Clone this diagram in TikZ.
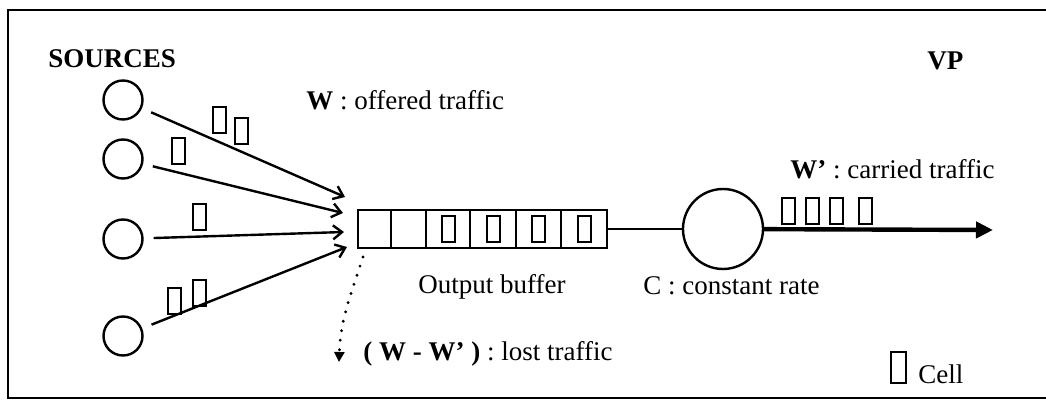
\documentclass[tikz,border=0pt]{standalone}
\usepackage{fontspec}
\setmainfont{Liberation Serif}
\usetikzlibrary{arrows.meta}

\begin{document}
\begin{tikzpicture}[x=0.5pt,y=-0.5pt]
    \useasboundingbox (0,0) rectangle (1046,401);
    \draw[line width=1.1pt] (1046,10) -- (8,10) -- (8,398) -- (1046,398);
    % sources and server
    \begin{scope}
        \tikzstyle{every node}=[draw=black, circle, line width=1.2pt, inner sep=0pt, minimum size=19.5pt]
        \node (src1) at (123,100) {};
        \node (src2) at (123,159) {};
        \node (src3) at (123,239) {};
        \node (src4) at (123,336) {};
        \node[minimum size=40pt] (server) at (723,229) {};
    \end{scope}
    % output buffer
    \begin{scope}
        \tikzstyle{every node}=[draw=black, rectangle, line width=1pt, inner sep=0pt, minimum height=19pt]
        \node[minimum width=16.5pt] (b1) at (374.5,229) {};
        \node[minimum width=17.5pt] (b2) at (408.5,229) {};
        \node[minimum width=22pt] (b3) at (448,229) {};
        \node[minimum width=23pt] (b4) at (493,229) {};
        \node[minimum width=22.5pt] (b5) at (538.5,229) {};
        \node[minimum width=23pt] (b6) at (584,229) {};
    \end{scope}
    % cells
    \begin{scope}
        \tikzstyle{every node}=[draw=black, rectangle, line width=1pt, inner sep=0pt, minimum width=6.5pt, minimum height=13pt]
        \node (c1) at (219.5,120) {};
        \node (c2) at (241.5,131.5) {};
        \node (c3) at (178.5,151) {};
        \node (c4) at (199.5,217.5) {};
        \node (c5) at (174,301.5) {};
        \node (c6) at (199,293.5) {};
        \node (q1) at (b3) {};
        \node (q2) at (b4) {};
        \node (q3) at (b5) {};
        \node (q4) at (b6) {};
        \node (o1) at (788,211.5) {};
        \node (o2) at (812,211.5) {};
        \node (o3) at (836,211.5) {};
        \node (o4) at (865,211.5) {};
        \node[line width=1.3pt, minimum width=7.5pt, minimum height=15.5pt] (key) at (898.5,367.5) {};
    \end{scope}
    \coordinate (in1) at (345,197);
    \coordinate (in2) at (343,213);
    \coordinate (in3) at (344,232);
    \coordinate (in4) at (347,247);
    \coordinate (out) at (993,230);
    \coordinate (loss) at (363,257);
    \coordinate (lost) at (339,362);
    % connectors
    \begin{scope}
        \tikzstyle{every edge}=[draw, line width=1.2pt, -{Straight Barb[length=4.5pt,width=7pt]}]
        \path
        (src1) edge[shorten <=5pt] (in1)
        (src2) edge[shorten <=5pt] (in2)
        (src3) edge[shorten <=5pt] (in3)
        (src4) edge[shorten <=5pt] (in4)
        (b6) edge[-] (server)
        (server) edge[line width=2.2pt, -{Triangle[length=8.5pt,width=8pt]}] (out)
        (loss) edge[out=-108, in=88, line width=1.6pt, line cap=round, dash pattern=on 0pt off 4.8pt,
                    -{Triangle[length=5pt,width=5pt]}] (lost);
    \end{scope}
    % labels
    \begin{scope}
        \tikzstyle{every node}=[anchor=base west, inner sep=0pt, font=\fontsize{13.5}{16}\selectfont]
        \node (sources) at (48,68) {\textbf{SOURCES}};
        \node (vp) at (927,70) {\textbf{VP}};
        \node (offered) at (306,110) {\textbf{W} : offered traffic};
        \node (carried) at (790,179) {\textbf{W'} : carried traffic};
        \node (buflabel) at (418,293) {Output buffer};
        \node (rate) at (643,294) {C : constant rate};
        \node (lostlabel) at (363,360) {\textbf{( W - W' )} : lost traffic};
        \node (cell) at (918,383) {Cell};
    \end{scope}
\end{tikzpicture}
\end{document}
